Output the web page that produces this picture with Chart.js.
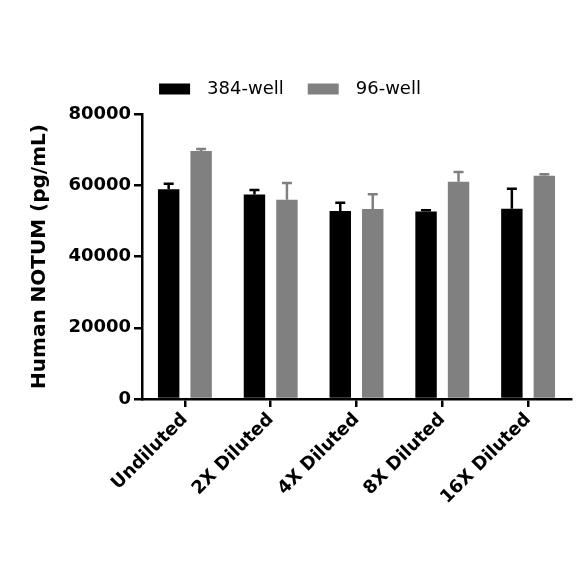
<!DOCTYPE html>
<html>
<head>
<meta charset="utf-8">
<script src="https://cdn.jsdelivr.net/npm/chart.js@4"></script>
<style>
  html, body { margin: 0; padding: 0; background: #fff; }
  #wrap { width: 584px; height: 584px; }
</style>
</head>
<body>
<div id="wrap"><canvas id="c" width="584" height="584"></canvas></div>
<script>
const categories = ['Undiluted', '2X Diluted', '4X Diluted', '8X Diluted', '16X Diluted'];
const seriesNames = ['384-well', '96-well'];
const values384 = [58900, 57400, 52800, 52600, 53400];
const errors384 = [1500, 1300, 2300, 400, 5600];
const values96 = [69600, 55900, 53300, 61000, 62700];
const errors96 = [600, 4700, 4200, 2700, 400];
const yTicks = [0, 20000, 40000, 60000, 80000];
const colors = ['#000000', '#808080'];

const errorBars = {
  id: 'errorBars',
  afterDatasetsDraw(chart) {
    const ctx = chart.ctx;
    const y = chart.scales.y;
    chart.data.datasets.forEach((ds, i) => {
      const meta = chart.getDatasetMeta(i);
      meta.data.forEach((bar, j) => {
        const top = y.getPixelForValue(ds.data[j] + ds.errors[j]);
        ctx.save();
        ctx.strokeStyle = ds.backgroundColor;
        ctx.lineWidth = 2.5;
        ctx.beginPath();
        ctx.moveTo(bar.x, bar.y);
        ctx.lineTo(bar.x, top);
        ctx.moveTo(bar.x - 5, top);
        ctx.lineTo(bar.x + 5, top);
        ctx.stroke();
        ctx.restore();
      });
    });
  }
};

const customLegend = {
  id: 'customLegend',
  afterDraw(chart) {
    const ctx = chart.ctx;
    ctx.save();
    ctx.font = '18px "DejaVu Sans"';
    ctx.textBaseline = 'middle';
    const boxW = 31, boxH = 11, gapText = 17, gapItem = 24;
    const items = chart.data.datasets.map(ds => ({ label: ds.label, color: ds.backgroundColor, w: ctx.measureText(ds.label).width }));
    let total = 0;
    items.forEach((it, k) => { total += boxW + gapText + it.w + (k < items.length - 1 ? gapItem : 0); });
    let x = 290 - total / 2;
    const cy = 89;
    items.forEach(it => {
      ctx.fillStyle = it.color;
      ctx.fillRect(x, cy - boxH / 2, boxW, boxH);
      x += boxW + gapText;
      ctx.fillStyle = '#000';
      ctx.fillText(it.label, x, cy);
      x += it.w + gapItem;
    });
    ctx.restore();
  }
};

new Chart(document.getElementById('c'), {
  type: 'bar',
  data: {
    labels: categories,
    datasets: [
      { label: seriesNames[0], data: values384, errors: errors384, backgroundColor: colors[0] },
      { label: seriesNames[1], data: values96, errors: errors96, backgroundColor: colors[1] }
    ]
  },
  options: {
    responsive: false,
    animation: false,
    devicePixelRatio: 1,
    layout: { padding: { top: 114, right: 13, left: 0, bottom: 0 } },
    categoryPercentage: 0.757,
    barPercentage: 0.66,
    plugins: {
      legend: { display: false },
      tooltip: { enabled: false }
    },
    scales: {
      x: {
        grid: { display: true, drawOnChartArea: false, drawTicks: true, offset: false, tickLength: 8, color: '#000', lineWidth: 2.5 },
        border: { display: true, color: '#000', width: 2.5 },
        ticks: {
          color: '#000',
          font: { family: '"DejaVu Sans"', size: 18, weight: 'bold' },
          maxRotation: 45, minRotation: 45, autoSkip: false, padding: 2
        },
        afterFit(s) { s.height = 185; }
      },
      y: {
        min: 0, max: 80000,
        afterBuildTicks(s) { s.ticks = yTicks.map(v => ({ value: v })); },
        grid: { display: true, drawOnChartArea: false, drawTicks: true, tickLength: 8, color: '#000', lineWidth: 2.5 },
        border: { display: true, color: '#000', width: 2.5 },
        ticks: {
          color: '#000',
          font: { family: '"DejaVu Sans"', size: 18, weight: 'bold' },
          padding: 3,
          callback: v => String(v)
        },
        title: {
          display: true,
          text: 'Human NOTUM (pg/mL)',
          color: '#000',
          font: { family: '"DejaVu Sans"', size: 20, weight: 'bold' },
          padding: { top: 28, bottom: 0 }
        },
        afterFit(s) { s.width = 142; }
      }
    }
  },
  plugins: [errorBars, customLegend]
});
</script>
</body>
</html>
